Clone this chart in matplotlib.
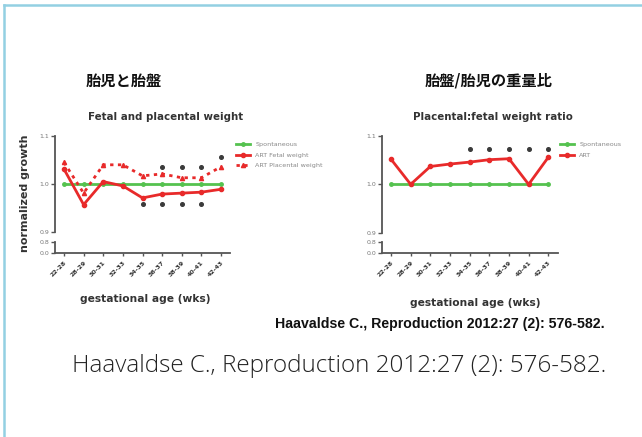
import matplotlib
matplotlib.use("Agg")
import matplotlib.pyplot as plt
from matplotlib.lines import Line2D

plt.rcParams['font.family'] = ['DejaVu Sans', 'Noto Sans CJK JP']

W, H = 642, 437

# ---- data ----
age_groups = ["22-28", "28-29", "30-31", "32-33", "34-35", "36-37", "38-39", "40-41", "42-43"]
spontaneous = [1.0] * 9
art_fetal = [1.031, 0.957, 1.005, 0.996, 0.971, 0.979, 0.981, 0.983, 0.989]
art_placental = [1.045, 0.981, 1.040, 1.040, 1.017, 1.021, 1.013, 1.013, 1.036]
sig_above_left = [5, 6, 7, 8]
sig_above_left_y = [1.036, 1.036, 1.036, 1.057]
sig_below_left = [4, 5, 6, 7]
sig_below_left_y = [0.958, 0.958, 0.958, 0.958]

ratio_art = [1.052, 1.0, 1.037, 1.042, 1.046, 1.051, 1.053, 1.0, 1.056]
sig_above_right = [4, 5, 6, 7, 8]
sig_above_right_y = [1.073] * 5

GREEN = "#55c24f"
RED = "#e82a2a"
STAR = "#3a3a3a"
AXC = "#555555"

fig = plt.figure(figsize=(W / 100, H / 100), dpi=100)
fig.patch.set_facecolor("white")


def rect(x0, y0, x1, y1):
    return [x0 / W, 1 - y1 / H, (x1 - x0) / W, (y1 - y0) / H]


def fx(x):
    return x / W


def fy(y):
    return 1 - y / H


def panel(x_axis, x_first, x_last, x_end, y_top, y_mid_bottom):
    step = (x_last - x_first) / 8
    xl = (-(x_first - x_axis) / step, 8 + (x_end - x_last) / step)
    main = fig.add_axes(rect(x_axis, y_top, x_end, y_mid_bottom))
    main.set_xlim(*xl)
    main.set_ylim(0.9, 1.1)
    for s in ("top", "right", "bottom"):
        main.spines[s].set_visible(False)
    main.spines["left"].set_color(AXC)
    main.spines["left"].set_linewidth(1.3)
    main.set_xticks([])
    main.set_yticks([0.9, 1.0, 1.1])
    main.set_yticklabels(["0.9", "1.0", "1.1"])
    main.tick_params(axis="y", length=3, width=1, color=AXC, labelsize=4.5,
                     labelcolor="#777777", pad=1)
    main.patch.set_alpha(0)

    low = fig.add_axes(rect(x_axis, 242, x_end, 253))
    low.set_xlim(*xl)
    low.set_ylim(0.0, 0.8)
    for s in ("top", "right"):
        low.spines[s].set_visible(False)
    for s in ("left", "bottom"):
        low.spines[s].set_color(AXC)
        low.spines[s].set_linewidth(1.3)
    low.set_yticks([0.0, 0.8])
    low.set_yticklabels(["0.0", "0.8"])
    low.set_xticks(range(9))
    low.set_xticklabels(age_groups, rotation=45, ha="right", va="top",
                        rotation_mode="anchor")
    low.tick_params(axis="y", length=3, width=1, color=AXC, labelsize=4.5,
                    labelcolor="#777777", pad=1)
    low.tick_params(axis="x", length=2, width=1, color=AXC, labelsize=4.5,
                    labelcolor="#333333", pad=3)
    for t in low.get_xticklabels():
        t.set_fontweight("bold")
    low.patch.set_alpha(0)
    return main


x = list(range(9))

# ---- left panel: fetal and placental weight ----
axL = panel(55, 64, 221, 230, 136, 232)
axL.plot(x, spontaneous, color=GREEN, lw=2, marker="o", ms=2.5, clip_on=False,
         label="Spontaneous")
axL.plot(x, art_fetal, color=RED, lw=2, marker="o", ms=3, clip_on=False,
         label="ART Fetal weight")
axL.plot(x, art_placental, color=RED, lw=2, ls=(0, (1.2, 1.6)), marker="^",
         ms=3, clip_on=False, label="ART Placental weight")
axL.plot(sig_above_left, sig_above_left_y, ls="none", marker="o", ms=2.6,
         color=STAR, clip_on=False)
axL.plot(sig_below_left, sig_below_left_y, ls="none", marker="o", ms=2.6,
         color=STAR, clip_on=False)
legL = axL.legend(loc="upper left", bbox_to_anchor=(fx(236), fy(142)),
                  bbox_transform=fig.transFigure, frameon=False, fontsize=4.6,
                  handlelength=2.2, handletextpad=0.8, labelspacing=0.75,
                  borderaxespad=0, borderpad=0)
for t in legL.get_texts():
    t.set_color("#888888")

# ---- right panel: placental:fetal weight ratio ----
axR = panel(381.7, 391, 548.3, 558, 136, 232.7)
axR.plot(x, spontaneous, color=GREEN, lw=2, marker="o", ms=2.5, clip_on=False,
         label="Spontaneous")
axR.plot(x, ratio_art, color=RED, lw=2, marker="o", ms=3, clip_on=False,
         label="ART")
axR.plot(sig_above_right, sig_above_right_y, ls="none", marker="o", ms=2.6,
         color=STAR, clip_on=False)
legR = axR.legend(loc="upper left", bbox_to_anchor=(fx(560), fy(142)),
                  bbox_transform=fig.transFigure, frameon=False, fontsize=4.6,
                  handlelength=2.2, handletextpad=0.8, labelspacing=0.85,
                  borderaxespad=0, borderpad=0)
for t in legR.get_texts():
    t.set_color("#888888")

# ---- titles and labels ----
jp = ["Noto Sans CJK JP", "DejaVu Sans"]
fig.text(fx(124), fy(81), "胎児と胎盤", family=jp, fontweight="bold",
         fontsize=11, ha="center", va="center", color="#111111")
fig.text(fx(489), fy(81), "胎盤/胎児の重量比", family=jp, fontweight="bold",
         fontsize=11, ha="center", va="center", color="#111111")
fig.text(fx(166), fy(117), "Fetal and placental weight", fontweight="bold",
         fontsize=7.4, ha="center", va="center", color="#333333")
fig.text(fx(493), fy(117), "Placental:fetal weight ratio", fontweight="bold",
         fontsize=7.4, ha="center", va="center", color="#333333")
fig.text(fx(25), fy(193), "normalized growth", fontweight="bold", fontsize=8,
         rotation=90, ha="center", va="center", color="#333333")
fig.text(fx(145), fy(299), "gestational age (wks)", fontweight="bold",
         fontsize=7.7, ha="center", va="center", color="#333333")
fig.text(fx(475), fy(303), "gestational age (wks)", fontweight="bold",
         fontsize=7.7, ha="center", va="center", color="#333333")
fig.text(fx(440), fy(324), "Haavaldse C., Reproduction 2012:27 (2): 576-582.",
         family=["Liberation Sans", "DejaVu Sans"],
         fontweight="bold", fontsize=10.2, ha="center", va="center",
         color="#111111")
fig.text(fx(339), fy(366), "Haavaldse C., Reproduction 2012:27 (2): 576-582.",
         family=["Open Sans", "DejaVu Sans"], fontweight="light", fontsize=17.5,
         ha="center", va="center", color="#222222")

# ---- slide frame ----
BLUE = "#93d0e2"
fig.add_artist(Line2D([fx(4), fx(4)], [fy(5), 0], transform=fig.transFigure,
                      color=BLUE, lw=1.8))
fig.add_artist(Line2D([fx(4), 1], [fy(5), fy(5)], transform=fig.transFigure,
                      color=BLUE, lw=1.8))

fig.savefig("out.png", dpi=100, facecolor="white")
